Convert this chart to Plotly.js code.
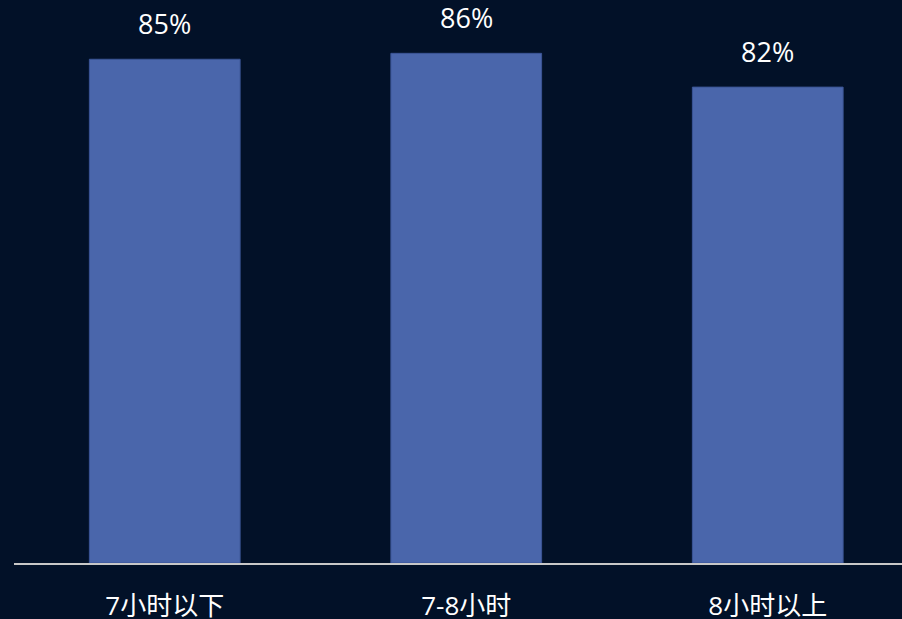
<!DOCTYPE html>
<html>
<head>
<meta charset="utf-8">
<script src="https://cdn.plot.ly/plotly-3.0.1.min.js"></script>
<style>html,body{margin:0;padding:0;background:#021128;}#chart{width:902px;height:619px;}</style>
</head>
<body>
<div id="chart"></div>
<script>
const categories = ["7小时以下", "7-8小时", "8小时以上"];
const values = [85, 86, 80.3];
const labels = ["85%", "86%", "82%"];

const FONT = "Open Sans, Noto Sans CJK SC, sans-serif";

const trace = {
  type: "bar",
  x: categories,
  y: values,
  marker: { color: "#4A66AB", line: { color: "#3B5596", width: 1 } },
  hoverinfo: "none"
};

const annotations = categories.map((c, i) => ({
  x: c, y: values[i], xref: "x", yref: "y",
  text: labels[i], showarrow: false,
  yanchor: "bottom", yshift: 15,
  font: { family: FONT, size: 27, color: "#FFFFFF" }
}));

const layout = {
  width: 902, height: 619,
  margin: { l: 14, r: 0, t: 0, b: 56 },
  paper_bgcolor: "#021128",
  plot_bgcolor: "#021128",
  bargap: 0.5,
  showlegend: false,
  xaxis: {
    type: "category",
    range: [-0.5, 2.4453],
    showline: true, linecolor: "#C8C8C8", linewidth: 2,
    showgrid: false, zeroline: false, ticks: "",
    ticklabelstandoff: 19,
    tickfont: { family: FONT, size: 26, color: "#FFFFFF" }
  },
  yaxis: {
    range: [0, 95], visible: false, showgrid: false, zeroline: false
  },
  annotations: annotations
};

Plotly.newPlot("chart", [trace], layout, { displayModeBar: false, staticPlot: true });
</script>
</body>
</html>
